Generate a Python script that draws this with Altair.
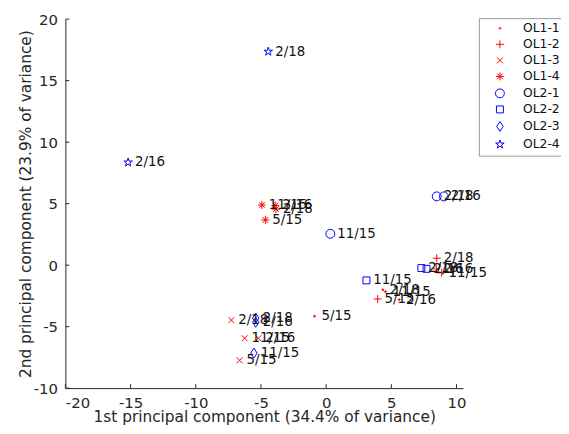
import altair as alt
import pandas as pd

# ---- data ----
groups = ["OL1-1", "OL1-2", "OL1-3", "OL1-4", "OL2-1", "OL2-2", "OL2-3", "OL2-4"]
colors = ["#ff0000", "#ff0000", "#ff0000", "#ff0000",
          "#0000ff", "#0000ff", "#0000ff", "#0000ff"]

pt_group = ["OL1-1", "OL1-1", "OL1-1", "OL1-1",
            "OL1-2", "OL1-2", "OL1-2", "OL1-2",
            "OL1-3", "OL1-3", "OL1-3", "OL1-3",
            "OL1-4", "OL1-4", "OL1-4", "OL1-4",
            "OL2-1", "OL2-1", "OL2-1",
            "OL2-2", "OL2-2", "OL2-2",
            "OL2-3", "OL2-3", "OL2-3",
            "OL2-4", "OL2-4"]
pt_label = ["5/15", "11/15", "2/16", "2/18",
            "5/15", "11/15", "2/16", "2/18",
            "5/15", "11/15", "2/16", "2/18",
            "5/15", "11/15", "2/16", "2/18",
            "11/15", "2/16", "2/18",
            "11/15", "2/16", "2/18",
            "11/15", "2/16", "2/18",
            "2/16", "2/18"]
pc1 = [-0.89, 4.55, 5.60, 4.35,
       3.95, 8.86, 8.45, 8.48,
       -6.64, -6.25, -5.20, -7.27,
       -4.66, -4.93, -3.90, -3.85,
       0.32, 9.03, 8.48,
       3.09, 7.70, 7.30,
       -5.54, -5.40, -5.40,
       -15.19, -4.44]
pc2 = [-4.15, -2.15, -2.80, -2.00,
       -2.75, -0.62, -0.30, 0.56,
       -7.74, -5.94, -5.94, -4.47,
       3.68, 4.89, 4.85, 4.55,
       2.55, 5.59, 5.59,
       -1.24, -0.30, -0.24,
       -7.15, -4.65, -4.30,
       8.35, 17.36]

x_ticks = [-20, -15, -10, -5, 0, 5, 10]
y_ticks = [-10, -5, 0, 5, 10, 15, 20]

x_title = "1st principal component (34.4% of variance)"
y_title = "2nd principal component (23.9% of variance)"

# MATLAB-like marker glyphs as custom symbol paths
def star(s):
    pts = [(0, -1), (0.2245, -0.309), (0.9511, -0.309), (0.3633, 0.118),
           (0.5878, 0.809), (0, 0.382), (-0.5878, 0.809), (-0.3633, 0.118),
           (-0.9511, -0.309), (-0.2245, -0.309)]
    return "M" + "L".join(f"{x*s:.3f},{y*s:.3f}" for x, y in pts) + "Z"

shapes = [
    "M0.18,0A0.18,0.18,0,1,1,-0.18,0A0.18,0.18,0,1,1,0.18,0Z",
    "M-0.8,0L0.8,0M0,-0.8L0,0.8",
    "M-0.6,-0.6L0.6,0.6M-0.6,0.6L0.6,-0.6",
    "M-0.8,0L0.8,0M0,-0.8L0,0.8M-0.57,-0.57L0.57,0.57M-0.57,0.57L0.57,-0.57",
    "M0.9,0A0.9,0.9,0,1,1,-0.9,0A0.9,0.9,0,1,1,0.9,0Z",
    "M-0.7,-0.7L0.7,-0.7L0.7,0.7L-0.7,0.7Z",
    "M0,-1L0.65,0L0,1L-0.65,0Z",
    star(0.9),
]

df = pd.DataFrame({"group": pt_group, "label": pt_label, "pc1": pc1, "pc2": pc2})
xt = pd.DataFrame({"v": x_ticks})
yt = pd.DataFrame({"v": y_ticks})

W, H = 402, 373
xs = alt.Scale(domain=[-20, 10.5], nice=False, zero=False)
ys = alt.Scale(domain=[-10, 20], nice=False, zero=False)

FONT = "DejaVu Sans"
AX = "#262626"

x_axis = alt.Axis(values=x_ticks, ticks=False, tickSize=0, grid=False,
                  labelPadding=8, labelFontSize=15, labelFont=FONT, labelColor=AX,
                  labelExpr="datum.value + ''",
                  domainColor=AX, domainWidth=1,
                  title=x_title, titleFont=FONT, titleFontSize=15.5,
                  titleFontWeight="normal", titleColor=AX,
                  titleX=W / 2, titleY=34, titleBaseline="alphabetic",
                  titleAlign="center")
y_axis = alt.Axis(values=y_ticks, ticks=False, tickSize=0, grid=False,
                  labelPadding=8, labelFontSize=15, labelFont=FONT, labelColor=AX,
                  labelExpr="datum.value + ''",
                  domainColor=AX, domainWidth=1,
                  title=y_title, titleFont=FONT, titleFontSize=15.5,
                  titleFontWeight="normal", titleColor=AX,
                  titleX=-35, titleY=H / 2, titleBaseline="alphabetic",
                  titleAlign="center", titleAngle=270)

legend = alt.Legend(orient="none", legendX=418, legendY=-1, title=None,
                    padding=4, symbolOffset=11, labelOffset=17, rowPadding=3.2,
                    strokeColor="#999999", fillColor="white", cornerRadius=0,
                    labelFontSize=12.5, labelFont=FONT, labelColor="#111111",
                    symbolSize=100, symbolStrokeWidth=1)

base = alt.Chart(df)
points = base.mark_point(filled=False, size=100, strokeWidth=1, opacity=1).encode(
    x=alt.X("pc1:Q", scale=xs, axis=x_axis),
    y=alt.Y("pc2:Q", scale=ys, axis=y_axis),
    color=alt.Color("group:N", scale=alt.Scale(domain=groups, range=colors), legend=legend),
    shape=alt.Shape("group:N", scale=alt.Scale(domain=groups, range=shapes), legend=legend),
    fill=alt.condition("datum.group == 'OL1-1'", alt.value("#ff0000"), alt.value("transparent")),
)
texts = base.mark_text(align="left", baseline="middle", dx=7, fontSize=13.5,
                       font=FONT, color="#111111").encode(
    x=alt.X("pc1:Q", scale=xs),
    y=alt.Y("pc2:Q", scale=ys),
    text="label:N",
)
xtick_marks = alt.Chart(xt).mark_rule(color=AX, strokeWidth=1).encode(
    x=alt.X("v:Q", scale=xs),
    y=alt.value(H),
    y2=alt.value(H - 4),
)
ytick_marks = alt.Chart(yt).mark_rule(color=AX, strokeWidth=1).encode(
    y=alt.Y("v:Q", scale=ys),
    x=alt.value(0),
    x2=alt.value(4),
)

chart = alt.layer(points, texts, xtick_marks, ytick_marks).properties(
    width=W, height=H,
    autosize=alt.AutoSizeParams(type="none"),
    padding={"left": 58, "top": 9, "right": 99, "bottom": 36},
).configure_view(stroke=None)

chart.save("out.html", embed_options={"renderer": "svg", "actions": False})
